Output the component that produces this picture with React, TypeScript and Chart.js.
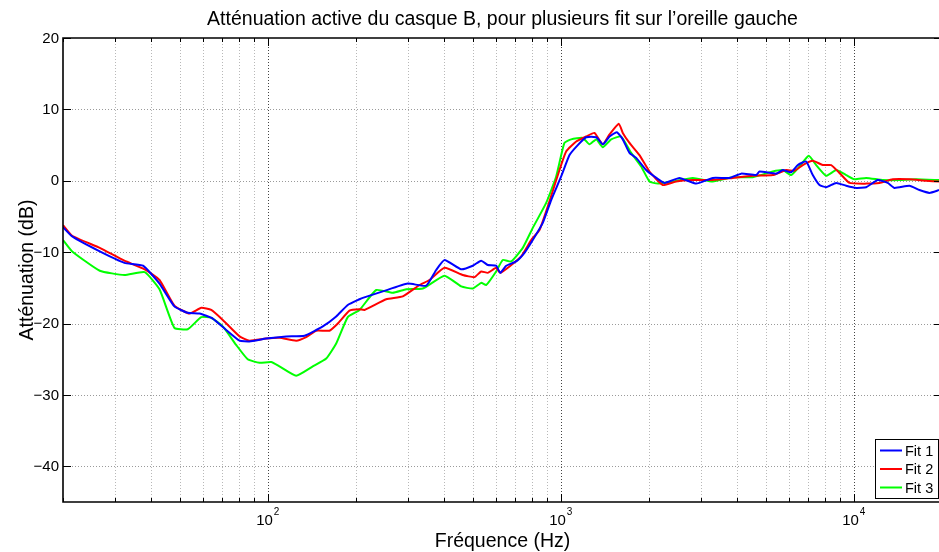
import React, { useEffect, useRef } from 'react';
import { Chart, registerables } from 'chart.js';

Chart.register(...registerables);

// ---------- data ----------
const fit1Freq = [20, 21.5, 26.7, 32.4, 37.5, 42.7, 48, 53.3, 58.5, 64.9, 72.1, 80.1, 86.6, 98.7, 115.6, 133.5, 154.1, 171.2, 187.5, 205.6, 211, 246.9, 300.5, 347.3, 375.6, 401.1, 457.2, 500.8, 535, 563.5, 601.8, 621.1, 651.2, 704.4, 751.7, 802.4, 868.1, 927.3, 1003, 1071, 1143, 1221, 1321, 1391, 1467, 1553, 1628, 1716, 1809, 1956, 2088, 2259, 2542, 2898, 3303, 3765, 4128, 4645, 4767, 5435, 5724, 6114, 6440, 6879, 7246, 7638, 8051, 8709, 9421, 10190, 11023, 12072, 13062, 13768, 15491, 16758, 18130, 19540];
const fit1Db = [-6.5, -7.8, -9.9, -11.5, -11.9, -14.4, -17.6, -18.5, -18.6, -19.3, -20.9, -22.4, -22.5, -22.1, -21.8, -21.7, -20.4, -19.0, -17.4, -16.6, -16.4, -15.5, -14.4, -14.7, -12.5, -11.1, -12.4, -11.9, -11.2, -11.8, -11.9, -12.9, -11.9, -11.3, -10.1, -8.3, -5.9, -2.7, 0.6, 3.6, 5.0, 6.1, 6.1, 5.1, 6.2, 6.8, 5.8, 3.9, 3.2, 1.5, 0.6, -0.3, 0.4, -0.4, 0.4, 0.4, 1.0, 0.8, 1.3, 1.0, 1.5, 1.2, 2.2, 2.7, 0.8, -0.6, -0.9, -0.3, -0.7, -1.0, -0.9, 0.1, -0.3, -1.0, -0.7, -1.3, -1.7, -1.3];

const fit2Freq = [20, 21.5, 26.7, 32.4, 38, 42.7, 48, 54.1, 59.3, 64.1, 70.2, 80.1, 86.6, 98.7, 109.6, 125, 135.2, 146.3, 162.4, 173.4, 190, 205.6, 213.8, 253.6, 288.9, 329.5, 356.4, 401.1, 462.9, 507.5, 535, 563.5, 601.8, 621.1, 668.3, 732.5, 792.5, 845.8, 902.9, 989.9, 1043, 1129, 1221, 1303, 1391, 1467, 1578, 1628, 1716, 1856, 2008, 2229, 2477, 2821, 3303, 3864, 4522, 5291, 5879, 6275, 6697, 7246, 7839, 8374, 8937, 9667, 11023, 12235, 13586, 15491, 17665, 19540];
const fit2Db = [-6.2, -7.7, -9.4, -11.2, -12.4, -13.9, -17.5, -18.6, -17.8, -18.1, -19.5, -21.8, -22.4, -22.1, -22.0, -22.4, -21.9, -21.0, -21.0, -20.0, -18.2, -18.0, -18.1, -16.6, -16.2, -14.6, -13.9, -12.2, -13.2, -13.5, -12.7, -12.9, -12.2, -12.9, -12.0, -10.6, -8.3, -6.9, -3.6, 1.5, 4.1, 5.5, 6.2, 6.7, 5.1, 6.5, 8.0, 6.7, 5.3, 3.6, 1.3, -0.6, -0.1, 0.1, 0.1, 0.4, 0.7, 0.8, 1.5, 1.4, 2.2, 2.8, 2.2, 2.2, 1.1, -0.3, -0.4, -0.3, 0.2, 0.2, 0.0, -0.1];

const fit3Freq = [20, 21.5, 26.7, 32.4, 38, 42.7, 48, 53.3, 59.3, 64.1, 70.2, 78, 85.4, 93.7, 102.7, 109.6, 125, 142.4, 158.3, 171.2, 187.5, 205.6, 234.4, 267.1, 296.8, 338.1, 401.1, 457.2, 500.8, 535, 556.5, 601.8, 633.9, 677.3, 741.8, 802.4, 891.6, 964.5, 1029, 1085, 1189, 1253, 1321, 1391, 1486, 1607, 1739, 1881, 2008, 2143, 2412, 2821, 3303, 3864, 4522, 5291, 5724, 6114, 6526, 7021, 7442, 8051, 8709, 9421, 10055, 11023, 12560, 14322, 16331, 19540];
const fit3Db = [-8.3, -9.9, -12.6, -13.2, -12.8, -15.2, -20.6, -20.8, -19.1, -19.2, -20.4, -23.0, -25.0, -25.5, -25.4, -26.0, -27.3, -26.0, -24.9, -22.8, -19.1, -18.1, -15.3, -15.7, -15.2, -15.1, -13.3, -14.8, -15.1, -14.3, -14.6, -12.7, -11.1, -11.3, -9.4, -6.6, -3.1, 0.6, 5.3, 5.8, 6.0, 5.1, 5.8, 4.7, 5.8, 6.2, 3.9, 2.0, -0.1, -0.4, -0.1, 0.4, -0.1, 0.5, 0.5, 1.3, 1.5, 0.8, 2.0, 3.5, 2.2, 0.7, 1.5, 0.8, 0.2, 0.4, 0.1, 0.1, 0.2, 0.1];

const seriesLabels = ['Fit 1', 'Fit 2', 'Fit 3'];
const seriesColors = ['#0000ff', '#ff0000', '#00ff00'];

const xMin = 20;
const xMax = 19540;
const xAxisEnd = 20000;
const yMin = -45;
const yMax = 20;
const xTickValues = [20, 30, 40, 50, 60, 70, 80, 90, 100, 200, 300, 400, 500, 600, 700, 800, 900, 1000, 2000, 3000, 4000, 5000, 6000, 7000, 8000, 9000, 10000];
const xMajorValues = [100, 1000, 10000];
const xMajorExponents = ['2', '3', '4'];
const yTickValues = [-40, -30, -20, -10, 0, 10, 20];

const titleText = 'Atténuation active du casque B, pour plusieurs fit sur l’oreille gauche';
const xAxisTitle = 'Fréquence (Hz)';
const yAxisTitle = 'Atténuation (dB)';

const FONT = '"Liberation Sans", Arial, Helvetica, sans-serif';

function fmtY(v: number) {
  return v < 0 ? '\u2212' + Math.abs(v) : String(v);
}

const matlabPlugin = {
  id: 'matlabAxes',
  beforeDatasetsDraw(chart: any) {
    const { ctx, chartArea: a, scales } = chart;
    const x = scales.x, y = scales.y;
    ctx.save();
    ctx.lineWidth = 1;
    ctx.setLineDash([1, 2]);
    for (const v of yTickValues) {
      if (v <= yMin || v >= yMax) continue;
      const py = Math.round(y.getPixelForValue(v)) + 0.5;
      ctx.strokeStyle = '#9a9a9a';
      ctx.beginPath();
      ctx.moveTo(a.left, py);
      ctx.lineTo(a.right, py);
      ctx.stroke();
    }
    for (const v of xTickValues) {
      if (v <= xMin) continue;
      const px = Math.round(x.getPixelForValue(v)) + 0.5;
      const major = xMajorValues.includes(v);
      ctx.strokeStyle = major ? '#444444' : '#b8b8b8';
      ctx.beginPath();
      ctx.moveTo(px, a.top);
      ctx.lineTo(px, a.bottom);
      ctx.stroke();
    }
    ctx.restore();
  },
  afterDatasetsDraw(chart: any) {
    const { ctx, chartArea: a, scales } = chart;
    const x = scales.x, y = scales.y;
    ctx.save();
    ctx.setLineDash([]);
    ctx.strokeStyle = '#000';

    // tick marks
    ctx.lineWidth = 1;
    for (const v of yTickValues) {
      const py = Math.round(y.getPixelForValue(v)) + 0.5;
      ctx.beginPath();
      ctx.moveTo(a.left, py);
      ctx.lineTo(a.left + 8, py);
      ctx.moveTo(a.right - 5, py);
      ctx.lineTo(a.right, py);
      ctx.stroke();
    }
    for (const v of xTickValues) {
      const px = Math.round(x.getPixelForValue(v)) + 0.5;
      const len = xMajorValues.includes(v) ? 8 : 4;
      ctx.beginPath();
      ctx.moveTo(px, a.bottom);
      ctx.lineTo(px, a.bottom - len);
      ctx.moveTo(px, a.top);
      ctx.lineTo(px, a.top + len);
      ctx.stroke();
    }

    // axes box (left, top, bottom; right edge lies beyond the figure)
    ctx.lineWidth = 1.6;
    ctx.beginPath();
    ctx.moveTo(a.right, a.top);
    ctx.lineTo(a.left, a.top);
    ctx.lineTo(a.left, a.bottom);
    ctx.lineTo(a.right, a.bottom);
    ctx.stroke();

    // y tick labels
    ctx.fillStyle = '#000';
    ctx.font = '15px ' + FONT;
    ctx.textAlign = 'right';
    ctx.textBaseline = 'middle';
    for (const v of yTickValues) {
      const py = y.getPixelForValue(v);
      ctx.fillText(fmtY(v), a.left - 4, py + 0.5);
    }

    // x tick labels 10^n
    ctx.textBaseline = 'alphabetic';
    ctx.textAlign = 'left';
    xMajorValues.forEach((v, i) => {
      const px = x.getPixelForValue(v);
      ctx.font = '15px ' + FONT;
      const w1 = ctx.measureText('10').width;
      ctx.font = '10px ' + FONT;
      const w2 = ctx.measureText(xMajorExponents[i]).width;
      const start = px - (w1 + w2 + 1) / 2;
      ctx.font = '15px ' + FONT;
      ctx.fillText('10', start, a.bottom + 22.5);
      ctx.font = '10px ' + FONT;
      ctx.fillText(xMajorExponents[i], start + w1 + 1, a.bottom + 13);
    });

    // titles
    const axisCenter = (a.left + x.getPixelForValue(xAxisEnd)) / 2;
    ctx.font = '19.5px ' + FONT;
    ctx.textAlign = 'center';
    ctx.fillText(titleText, axisCenter, 25);
    ctx.fillText(xAxisTitle, axisCenter, a.bottom + 45);
    ctx.save();
    ctx.translate(33, (a.top + a.bottom) / 2);
    ctx.rotate(-Math.PI / 2);
    ctx.fillText(yAxisTitle, 0, 0);
    ctx.restore();

    // legend
    const lx = 875.5, ly = 439.5, lw = 63, lh = 59;
    ctx.fillStyle = '#fff';
    ctx.fillRect(lx, ly, lw, lh);
    ctx.lineWidth = 1;
    ctx.strokeStyle = '#000';
    ctx.strokeRect(lx, ly, lw, lh);
    const rows = [450.5, 469, 487.5];
    ctx.font = '14.5px ' + FONT;
    ctx.textAlign = 'left';
    ctx.textBaseline = 'middle';
    chart.data.datasets.forEach((ds: any, i: number) => {
      ctx.strokeStyle = ds.borderColor;
      ctx.lineWidth = 2;
      ctx.beginPath();
      ctx.moveTo(880, rows[i]);
      ctx.lineTo(902, rows[i]);
      ctx.stroke();
      ctx.fillStyle = '#000';
      ctx.fillText(ds.label, 905, rows[i] + 1);
    });
    ctx.restore();
  },
};

function toPoints(freq: number[], db: number[]) {
  return freq.map((f, i) => ({ x: f, y: db[i] }));
}

export default function App() {
  const canvasRef = useRef<HTMLCanvasElement | null>(null);

  useEffect(() => {
    const canvas = canvasRef.current;
    if (!canvas) return;
    const seriesFreq = [fit1Freq, fit2Freq, fit3Freq];
    const seriesDb = [fit1Db, fit2Db, fit3Db];
    const chart = new Chart(canvas, {
      type: 'line',
      data: {
        datasets: seriesLabels.map((label, i) => ({
          label,
          data: toPoints(seriesFreq[i], seriesDb[i]),
          borderColor: seriesColors[i],
          backgroundColor: seriesColors[i],
          borderWidth: 2,
          pointRadius: 0,
          tension: 0.15,
          fill: false,
        })),
      },
      options: {
        responsive: false,
        devicePixelRatio: 1,
        animation: false,
        parsing: true,
        layout: { padding: { left: 63, right: 0, top: 38, bottom: 50 } },
        plugins: {
          legend: { display: false },
          title: { display: false },
          tooltip: { enabled: false },
        },
        scales: {
          x: { type: 'logarithmic', min: xMin, max: xMax, display: false },
          y: { type: 'linear', min: yMin, max: yMax, display: false },
        },
      },
      plugins: [matlabPlugin],
    } as any);
    return () => chart.destroy();
  }, []);

  return (
    <div style={{ position: 'absolute', left: 0, top: 0, width: 939, height: 552, background: '#fff' }}>
      <canvas ref={canvasRef} width={939} height={552} style={{ display: 'block' }} />
    </div>
  );
}
